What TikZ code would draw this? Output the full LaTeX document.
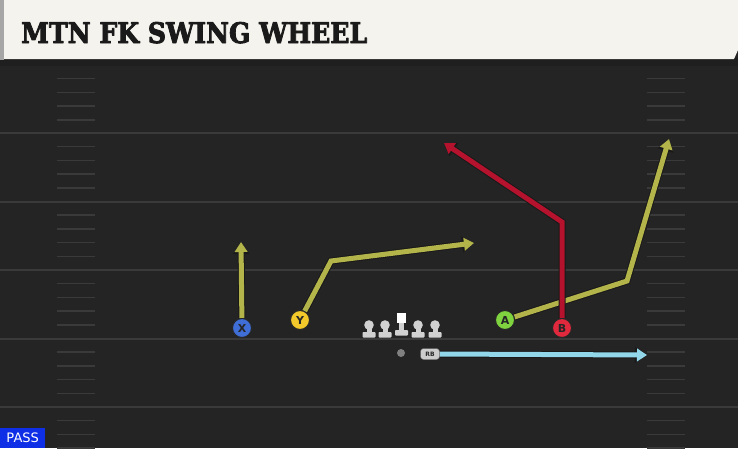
\documentclass[tikz,border=0pt]{standalone}
\usepackage{fontspec}
\setmainfont{DejaVu Sans}
\newfontfamily\titlefont{DejaVu Serif}
\usetikzlibrary{arrows.meta}
\pgfdeclarelayer{bg}
\pgfsetlayers{bg,main}
\definecolor{field}{HTML}{242424}
\definecolor{yard}{HTML}{3A3A3A}
\definecolor{cream}{HTML}{F5F3EE}
\definecolor{titleink}{HTML}{1A1A1A}
\definecolor{olive}{HTML}{B3B54B}
\definecolor{redroute}{HTML}{B5122E}
\definecolor{blueroute}{HTML}{92D6EA}
\definecolor{xblue}{HTML}{3F6ED6}
\definecolor{yyellow}{HTML}{F2C82B}
\definecolor{agreen}{HTML}{7FD33F}
\definecolor{bred}{HTML}{E0293D}
\definecolor{passblue}{HTML}{0F2FE6}
\newcommand\heavytext[1]{\special{pdf:literal direct 1 j 0.9 w 2 Tr}#1\special{pdf:literal direct 0 Tr}}
\tikzset{
  player/.style={circle, draw=black!85, line width=1pt, minimum size=19pt, inner sep=0pt,
    font=\bfseries\fontsize{11}{11}\selectfont, text=black!85},
  route/.style={line width=5pt, color=#1, line join=miter,
    -{Triangle[length=10pt,width=12.5pt]},
    preaction={draw=black!90, line width=7pt, -{Triangle[length=12pt,width=15.5pt]}}},
  yardline/.style={yard, line width=2pt},
  hash/.style={yard, line width=1.5pt},
  lineman/.style={fill=black!18},
}
\begin{document}
\begin{tikzpicture}[x=1pt,y=-1pt]
\useasboundingbox (0,0) rectangle (738,448);
\begin{pgfonlayer}{bg}
% field
\fill[field] (0,0) rectangle (738,448);
\fill[black!88] (0,58) rectangle (738,66);
% yard lines
\foreach \y in {133,201.5,270,338.5,407} \draw[yardline] (0,\y) -- (738,\y);
% hash marks
\foreach \b in {65,133,201.5,270,338.5,407} {
  \foreach \k in {1,2,3,4} {
    \pgfmathsetmacro\yy{\b+13.7*\k}
    \draw[hash] (57,\yy) -- (95,\yy);
    \draw[hash] (647,\yy) -- (685,\yy);
  }
}
% title bar
\fill[black!35] (0,0) rectangle (4,60);
\fill[cream] (4,0) -- (738,0) -- (738,50) -- (734,59) -- (4,59) -- cycle;
\end{pgfonlayer}
\node[anchor=base west, inner sep=0pt, text=titleink] (title) at (21,43)
  {\resizebox{346pt}{21pt}{\fontsize{29.5}{30}\titlefont\bfseries\heavytext{MTN FK SWING WHEEL}}};
% route end coordinates
\coordinate (xend) at (241,242);
\coordinate (ybreak) at (331,261);
\coordinate (yend) at (474,243);
\coordinate (abreak) at (627,281);
\coordinate (aend) at (669,139);
\coordinate (bbreak) at (562,222);
\coordinate (bend) at (444,143);
\coordinate (rbend) at (647,355);
% players
\node[player, fill=xblue] (X) at (242,328) {X};
\node[player, fill=yyellow] (Y) at (300,320) {Y};
\node[player, fill=agreen] (A) at (505,320) {A};
\node[player, fill=bred] (B) at (562,328) {B};
% routes (under the players)
\begin{pgfonlayer}{bg}
\draw[route=olive] (X) -- (xend);
\draw[route=olive] (Y) -- (ybreak) -- (yend);
\draw[route=olive] (A) -- (abreak) -- (aend);
\draw[route=redroute] (B) -- (bbreak) -- (bend);
\end{pgfonlayer}
% offensive line
\foreach \x/\n in {369/lt,385/lg,418/rg,435/rt} {
  \fill[lineman] (\x,325) circle (4.8pt);
  \fill[lineman] (\x-2.5,325) rectangle (\x+2.5,334);
  \fill[lineman, rounded corners=0.8pt] (\x-6.5,332) rectangle (\x+6.5,337.5);
  \coordinate (\n) at (\x,330);
}
\fill[white] (397,313) rectangle (406,323);
\fill[lineman] (399,323) rectangle (404,333);
\fill[lineman, rounded corners=0.8pt] (395,330) rectangle (408,335.5);
\coordinate (center) at (401.5,323);
% QB and RB
\node[circle, fill=black!50, minimum size=8pt, inner sep=0pt] (qb) at (401,353) {};
\node[fill=black!20, draw=black!60, rounded corners=3pt, inner sep=0pt, minimum width=19pt, minimum height=11pt,
  font=\bfseries\fontsize{6}{6}\selectfont, text=black!85] (RB) at (430,354) {RB};
\begin{pgfonlayer}{bg}
\draw[route=blueroute] (RB.east) -- (rbend);
\end{pgfonlayer}
% PASS label
\node[fill=passblue, text=white, anchor=south west, inner sep=0pt, minimum width=45pt, minimum height=20pt,
  font=\fontsize{13}{13}\selectfont] (pass) at (0,448) {PASS};
\end{tikzpicture}
\end{document}
